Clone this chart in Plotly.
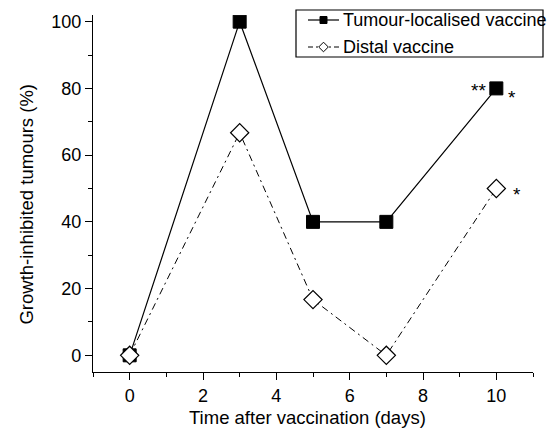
import plotly.graph_objects as go

# Days after vaccination and percentage of growth-inhibited tumours
days = [0, 3, 5, 7, 10]
tumour_localised = [0, 100, 40, 40, 80]
distal = [0, 66.7, 16.7, 0, 50]

series_names = ["Tumour-localised vaccine", "Distal vaccine"]
x_ticks = [0, 2, 4, 6, 8, 10]
y_ticks = [0, 20, 40, 60, 80, 100]

font_family = "Liberation Sans, Arial, sans-serif"
distal_dash = "7px,4px,2px,4px"

W, H = 547, 429
M_L, M_R, M_T, M_B = 93, 14, 15, 57
PLOT_W = W - M_L - M_R
PLOT_H = H - M_T - M_B


def px(xpix):
    """Pixel column -> paper x fraction."""
    return (xpix - M_L) / PLOT_W


def py(ypix):
    """Pixel row -> paper y fraction."""
    return (H - M_B - ypix) / PLOT_H


fig = go.Figure()

fig.add_trace(go.Scatter(
    x=days, y=tumour_localised, name=series_names[0], mode="lines+markers",
    line=dict(color="black", width=1.2),
    marker=dict(symbol="square", size=13, color="black",
                line=dict(color="black", width=1)),
))
fig.add_trace(go.Scatter(
    x=days, y=distal, name=series_names[1], mode="lines+markers",
    line=dict(color="black", width=1, dash=distal_dash),
    marker=dict(symbol="diamond", size=14, color="white",
                line=dict(color="black", width=1.2)),
))

# Significance markers next to the day-10 points
star_font = dict(size=19, color="black", family=font_family)
fig.add_annotation(x=days[-1], y=tumour_localised[-1], text="**", showarrow=False,
                   xanchor="right", yanchor="middle", xshift=-8, yshift=-2,
                   font=star_font)
fig.add_annotation(x=days[-1], y=tumour_localised[-1], text="*", showarrow=False,
                   xanchor="left", yanchor="middle", xshift=10, yshift=-9,
                   font=star_font)
fig.add_annotation(x=days[-1], y=distal[-1], text="*", showarrow=False,
                   xanchor="left", yanchor="middle", xshift=15, yshift=-6,
                   font=star_font)

# Axis titles
title_font = dict(size=18.5, color="black", family=font_family)
fig.add_annotation(text="Time after vaccination (days)", xref="paper", yref="paper",
                   x=0.488, y=0, xanchor="center", yanchor="middle", yshift=-45,
                   showarrow=False, font=title_font)
fig.add_annotation(text="Growth-inhibited tumours (%)", xref="paper", yref="paper",
                   x=0, y=0.469, xanchor="center", yanchor="middle", xshift=-66,
                   textangle=-90, showarrow=False, font=title_font)

# Boxed legend with compact line/marker samples
legend_font = dict(size=18, color="black", family=font_family)
fig.add_shape(type="rect", xref="paper", yref="paper",
              x0=px(296), x1=px(543), y0=py(57), y1=py(10),
              line=dict(color="black", width=1.2), fillcolor="white", layer="above")
rows = [
    (20, series_names[0], dict(color="black", width=1.2), "square"),
    (47, series_names[1], dict(color="black", width=1, dash="5px,3px,2px,3px"), "diamond"),
]
for row_y, label, line_style, symbol in rows:
    fig.add_shape(type="line", xref="paper", yref="paper",
                  x0=px(308), x1=px(339), y0=py(row_y), y1=py(row_y),
                  line=line_style, layer="above")
    if symbol == "square":
        path = "M -3.5,-3.5 L 3.5,-3.5 L 3.5,3.5 L -3.5,3.5 Z"
        fill = "black"
    else:
        path = "M 0,-4.8 L 4.8,0 L 0,4.8 L -4.8,0 Z"
        fill = "white"
    fig.add_shape(type="path", xref="paper", yref="paper",
                  xsizemode="pixel", ysizemode="pixel",
                  xanchor=px(323.5), yanchor=py(row_y), path=path,
                  fillcolor=fill, line=dict(color="black", width=1), layer="above")
    fig.add_annotation(text=label, xref="paper", yref="paper",
                       x=px(341), y=py(row_y), xanchor="left", yanchor="middle",
                       showarrow=False, font=legend_font)

axis_common = dict(
    showline=True, linecolor="black", linewidth=1.2,
    ticks="outside", ticklen=7, tickwidth=1.2, tickcolor="black",
    showgrid=False, zeroline=False, mirror=False,
    tickfont=dict(size=18, color="black", family=font_family),
)

fig.update_xaxes(
    range=[-1, 11], tickvals=x_ticks,
    minor=dict(dtick=1, tick0=0, ticks="outside", ticklen=4, tickwidth=1.2,
               tickcolor="black", showgrid=False),
    **axis_common,
)
fig.update_yaxes(
    range=[-5, 102], tickvals=y_ticks,
    minor=dict(dtick=10, tick0=0, ticks="outside", ticklen=4, tickwidth=1.2,
               tickcolor="black", showgrid=False),
    **axis_common,
)

fig.update_layout(
    width=W, height=H,
    margin=dict(l=M_L, r=M_R, t=M_T, b=M_B, autoexpand=False),
    plot_bgcolor="white", paper_bgcolor="white",
    font=dict(family=font_family, color="black"),
    showlegend=False,
)

fig.write_html("out.html")
